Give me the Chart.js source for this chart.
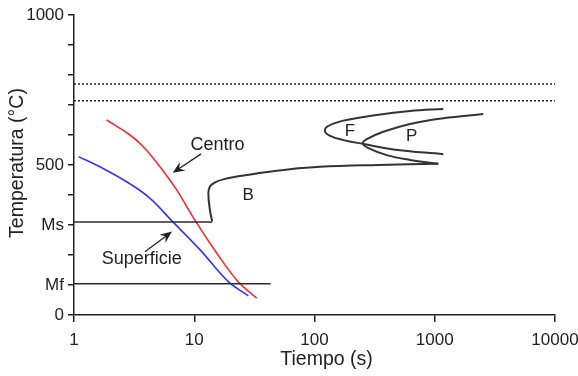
<!DOCTYPE html>
<html>
<head>
<meta charset="utf-8">
<script src="https://cdn.jsdelivr.net/npm/chart.js@4"></script>
<style>
  html, body { margin: 0; padding: 0; background: #fff; }
  #wrap { width: 578px; height: 376px; }
</style>
</head>
<body>
<div id="wrap"><canvas id="diagrama" width="578" height="376"></canvas></div>
<script>
// Curvas de enfriamiento (tiempo en s, temperatura en °C)
const tiempoCentro = [1.87, 2.92, 3.77, 5.19, 7.14, 10.1, 15.4, 23.2, 33.1];
const tempCentro   = [650, 600, 561, 494, 417, 317, 206, 111, 56];

const tiempoSuperficie = [1.09, 1.64, 2.74, 4.29, 6.4, 11.2, 19.2, 28.2];
const tempSuperficie   = [528, 494, 444, 389, 317, 217, 111, 64];

// Curvas de transformación
const tiempoB = [14.1, 13.5, 13.1, 13.5, 14.9, 17.4, 24.0, 33.1, 62.5, 111, 340, 1071];
const tempB   = [312, 350, 406, 428, 442, 452, 463, 472, 486, 494, 500, 504];

const tiempoF = [1178, 623, 329, 174, 130, 122, 135, 174, 255, 452, 1178];
const tempF   = [687, 680, 667, 648, 630, 613, 597, 583, 570, 552, 536];

const tiempoP = [1071, 623, 398, 281, 252, 272, 373, 623, 1178, 2535];
const tempP   = [504, 517, 533, 556, 572, 586, 611, 637, 656, 670];

// Líneas horizontales
const tiempoMs = [1, 14.1];
const tempMs = 310;
const tiempoMf = [1, 43.2];
const tempMf = 104;
const tiempoCriticas = [1, 10000];
const tempCriticas = [770, 714];

// Ejes
const ticksX = [1, 10, 100, 1000, 10000];
const ticksYValor = [0, 100, 300, 500, 1000];
const ticksYTexto = ['0', 'Mf', 'Ms', '500', '1000'];

// Rótulos y flechas
const textos = ['Centro', 'Superficie', 'B', 'F', 'P'];
const textoX = [15.6, 3.66, 28.1, 197, 643];
const textoY = [568, 187, 400, 611, 594];
const flechaDesdeX = [11.4, 3.89];
const flechaDesdeY = [537, 211];
const flechaHastaX = [6.62, 6.53];
const flechaHastaY = [474, 278];

const FUENTE = "'Liberation Sans', Arial, sans-serif";

function puntos(xs, ys) {
  return xs.map((x, i) => ({ x: x, y: Array.isArray(ys) ? ys[i] : ys }));
}

function serie(xs, ys, color, ancho, extra) {
  return Object.assign({
    data: puntos(xs, ys),
    showLine: true,
    borderColor: color,
    borderWidth: ancho,
    pointRadius: 0,
    tension: 0.4,
    fill: false
  }, extra || {});
}

const datasets = [
  serie(tiempoCriticas, tempCriticas[0], '#222', 1.5, { borderDash: [2, 2], tension: 0 }),
  serie(tiempoCriticas, tempCriticas[1], '#222', 1.5, { borderDash: [2, 2], tension: 0 }),
  serie(tiempoMs, tempMs, '#2a2a2a', 1.6, { tension: 0 }),
  serie(tiempoMf, tempMf, '#2a2a2a', 1.6, { tension: 0 }),
  serie(tiempoB, tempB, '#333', 2),
  serie(tiempoF, tempF, '#333', 2),
  serie(tiempoP, tempP, '#333', 2),
  serie(tiempoSuperficie, tempSuperficie, 'rgb(50,50,255)', 1.6),
  serie(tiempoCentro, tempCentro, 'rgb(255,40,40)', 1.6)
];

const anotaciones = {
  id: 'anotaciones',
  afterDatasetsDraw(chart) {
    const c = chart.ctx;
    const sx = chart.scales.x, sy = chart.scales.y;
    c.save();
    c.fillStyle = '#222';
    c.textAlign = 'center';
    c.textBaseline = 'middle';
    textos.forEach((t, i) => {
      c.font = (i < 2 ? '18px ' : '17px ') + FUENTE;
      c.fillText(t, sx.getPixelForValue(textoX[i]), sy.getPixelForValue(textoY[i]));
    });
    // flechas
    c.strokeStyle = '#222';
    c.lineWidth = 1.3;
    flechaDesdeX.forEach((_, i) => {
      const x0 = sx.getPixelForValue(flechaDesdeX[i]), y0 = sy.getPixelForValue(flechaDesdeY[i]);
      const x1 = sx.getPixelForValue(flechaHastaX[i]), y1 = sy.getPixelForValue(flechaHastaY[i]);
      const ang = Math.atan2(y1 - y0, x1 - x0);
      const largo = 13, abre = 0.4;
      c.beginPath();
      c.moveTo(x0, y0);
      c.lineTo(x1 - Math.cos(ang) * 6, y1 - Math.sin(ang) * 6);
      c.stroke();
      c.beginPath();
      c.moveTo(x1, y1);
      c.lineTo(x1 - largo * Math.cos(ang - abre), y1 - largo * Math.sin(ang - abre));
      c.lineTo(x1 - largo * 0.6 * Math.cos(ang), y1 - largo * 0.6 * Math.sin(ang));
      c.lineTo(x1 - largo * Math.cos(ang + abre), y1 - largo * Math.sin(ang + abre));
      c.closePath();
      c.fill();
    });
    // títulos de ejes
    const area = chart.chartArea;
    c.font = '19.5px ' + FUENTE;
    c.fillText('Tiempo (s)', (area.left + area.right) / 2 + 12, 360);
    c.translate(18, (area.top + area.bottom) / 2 - 2);
    c.rotate(-Math.PI / 2);
    c.fillText('Temperatura (°C)', 0, 0);
    c.restore();
  }
};

const ctx = document.getElementById('diagrama').getContext('2d');
const chart = new Chart(ctx, {
  type: 'scatter',
  data: { datasets: datasets },
  plugins: [anotaciones],
  options: {
    responsive: false,
    animation: false,
    layout: { padding: { left: 0, right: 23, top: 15, bottom: 0 } },
    plugins: { legend: { display: false }, tooltip: { enabled: false } },
    scales: {
      x: {
        type: 'logarithmic',
        min: 1,
        max: 10000,
        afterBuildTicks: (scale) => { scale.ticks = ticksX.map(v => ({ value: v })); },
        afterFit: (scale) => {
          scale.height = 61;
          scale.paddingLeft = 0;
          scale.paddingRight = 0;
        },
        grid: { drawOnChartArea: false, tickLength: 7, color: '#222', lineWidth: 1.5 },
        border: { color: '#222', width: 1.5 },
        ticks: {
          autoSkip: false,
          maxRotation: 0,
          padding: 8,
          color: '#222',
          font: { family: FUENTE, size: 17 },
          callback: (v) => String(v)
        }
      },
      y: {
        min: 0,
        max: 1000,
        afterBuildTicks: (scale) => {
          const t = [];
          for (let v = 0; v <= 1000; v += 100) t.push({ value: v });
          scale.ticks = t;
        },
        afterFit: (scale) => {
          scale.width = 74;
          scale.paddingTop = 0;
          scale.paddingBottom = 0;
        },
        grid: { drawOnChartArea: false, tickLength: 6, color: '#222', lineWidth: 1.5 },
        border: { color: '#222', width: 1.5 },
        ticks: {
          autoSkip: false,
          padding: 4,
          color: '#222',
          font: { family: FUENTE, size: 17 },
          callback: (v) => {
            const k = ticksYValor.indexOf(v);
            return k >= 0 ? ticksYTexto[k] : '';
          }
        }
      }
    }
  }
});
</script>
</body>
</html>
